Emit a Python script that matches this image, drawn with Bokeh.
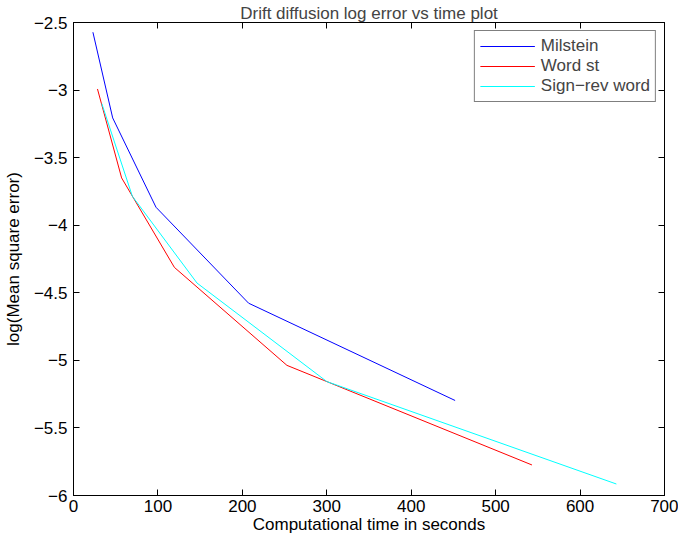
from bokeh.plotting import figure
from bokeh.models import LinearAxis, FixedTicker, Legend, LegendItem
from bokeh.embed import file_html
from bokeh.resources import INLINE

# Data
milstein_x = [23.0, 46.4, 97.7, 207.4, 452.0]
milstein_y = [-2.572, -3.206, -3.867, -4.577, -5.297]
word_x = [28.4, 57.0, 119.5, 252.8, 543.0]
word_y = [-2.992, -3.650, -4.312, -5.037, -5.774]
signrev_x = [33.5, 69.7, 146.3, 300.0, 643.0]
signrev_y = [-3.100, -3.786, -4.428, -5.157, -5.915]

x_ticks = [0, 100, 200, 300, 400, 500, 600, 700]
y_ticks = [-6, -5.5, -5, -4.5, -4, -3.5, -3, -2.5]
y_tick_labels = ["\u22126", "\u22125.5", "\u22125", "\u22124.5", "\u22124", "\u22123.5", "\u22123", "\u22122.5"]

FONT = "Liberation Sans"
FS = "17px"

p = figure(width=678, height=539, x_range=(0, 700), y_range=(-6, -2.5),
           output_backend="svg", toolbar_location=None,
           min_border_left=68, min_border_right=14, min_border_top=22, min_border_bottom=44,
           title="Drift diffusion log error vs time plot")
p.title.text_font = FONT
p.title.text_font_size = FS
p.title.text_font_style = "normal"
p.title.align = "center"
p.title.standoff = 0
p.title.offset = 0

p.xgrid.visible = False
p.ygrid.visible = False
p.outline_line_color = "black"
p.outline_line_width = 1

def style_axis(ax, labels=True):
    ax.axis_line_color = "black"
    ax.axis_line_width = 1
    ax.major_tick_in = 6
    ax.major_tick_out = 0
    ax.minor_tick_in = 0
    ax.minor_tick_out = 0
    ax.major_tick_line_color = "black"
    ax.major_label_text_font = FONT
    if labels:
        ax.major_label_text_font_size = FS
        ax.major_label_text_color = "black"
    else:
        ax.major_label_text_font_size = "1px"
        ax.major_label_text_color = None
    ax.axis_label_text_font = FONT
    ax.axis_label_text_font_size = FS
    ax.axis_label_text_font_style = "normal"
    ax.axis_label_text_color = "black"

xa = p.xaxis[0]
ya = p.yaxis[0]
xa.ticker = FixedTicker(ticks=x_ticks)
ya.ticker = FixedTicker(ticks=y_ticks)
ya.major_label_overrides = {t: l for t, l in zip(y_ticks, y_tick_labels)}
style_axis(xa)
style_axis(ya)
xa.axis_label = "Computational time in seconds"
ya.axis_label = "log(Mean square error)"
xa.major_label_standoff = 4
ya.major_label_standoff = 6
xa.axis_label_standoff = 0
ya.axis_label_standoff = 8

top = LinearAxis(ticker=FixedTicker(ticks=x_ticks))
right = LinearAxis(ticker=FixedTicker(ticks=y_ticks))
for ax in (top, right):
    style_axis(ax, labels=False)
    ax.major_label_standoff = 0
    ax.axis_label_standoff = 0
p.add_layout(top, "above")
p.add_layout(right, "right")

r1 = p.line(milstein_x, milstein_y, line_color="#0000ff", line_width=1)
r2 = p.line(word_x, word_y, line_color="#ff0000", line_width=1)
r3 = p.line(signrev_x, signrev_y, line_color="#00ffff", line_width=1)

legend = Legend(items=[LegendItem(label="Milstein", renderers=[r1]),
                       LegendItem(label="Word st", renderers=[r2]),
                       LegendItem(label="Sign\u2212rev word", renderers=[r3])],
                location="top_right")
legend.label_text_font = FONT
legend.label_text_font_size = FS
legend.glyph_width = 55
legend.glyph_height = 20
legend.label_height = 20
legend.label_standoff = 6
legend.spacing = 0
legend.padding = 5
legend.margin = 8
legend.border_line_color = "black"
legend.border_line_width = 1
legend.background_fill_alpha = 1
p.add_layout(legend)

open("out.html", "w").write(file_html(p, INLINE))
